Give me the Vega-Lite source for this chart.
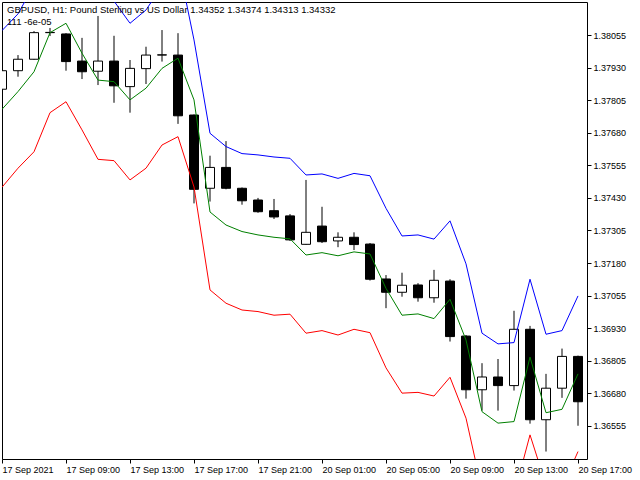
{
  "$schema": "https://vega.github.io/schema/vega-lite/v6.json",
  "width": 585,
  "height": 457,
  "autosize": "none",
  "padding": {"left": 2, "top": 2, "right": 53, "bottom": 21},
  "background": "white",
  "title": {
    "text": "GBPUSD, H1:  Pound Sterling vs US Dollar  1.34352 1.34374 1.34313 1.34332",
    "subtitle": "111 -6e-05",
    "anchor": "start",
    "frame": "group",
    "offset": -24,
    "dx": 5,
    "font": "Liberation Sans",
    "fontSize": 9.5,
    "fontWeight": "normal",
    "color": "black",
    "subtitleFont": "Liberation Sans",
    "subtitleFontSize": 9.5,
    "subtitleColor": "black",
    "subtitlePadding": 2
  },
  "data": {
    "values": [
      {"t": "17 Sep 05:00", "o": 1.37847, "h": 1.37920, "l": 1.37845, "c": 1.37918, "up": 1.38072, "mid": 1.37770, "lo": 1.37471},
      {"t": "17 Sep 06:00", "o": 1.37918, "h": 1.37978, "l": 1.37895, "c": 1.37962, "up": 1.38136, "mid": 1.37838, "lo": 1.37544},
      {"t": "17 Sep 07:00", "o": 1.37962, "h": 1.38070, "l": 1.37960, "c": 1.38064, "up": 1.38247, "mid": 1.37914, "lo": 1.37607},
      {"t": "17 Sep 08:00", "o": 1.38064, "h": 1.38082, "l": 1.38051, "c": 1.38065, "up": 1.38370, "mid": 1.38064, "lo": 1.37757},
      {"t": "17 Sep 09:00", "o": 1.38059, "h": 1.38062, "l": 1.37918, "c": 1.37953, "up": 1.38400, "mid": 1.38100, "lo": 1.37799},
      {"t": "17 Sep 10:00", "o": 1.37955, "h": 1.38044, "l": 1.37886, "c": 1.37914, "up": 1.38278, "mid": 1.37985, "lo": 1.37691},
      {"t": "17 Sep 11:00", "o": 1.37916, "h": 1.38128, "l": 1.37863, "c": 1.37955, "up": 1.38208, "mid": 1.37882, "lo": 1.37578},
      {"t": "17 Sep 12:00", "o": 1.37955, "h": 1.38052, "l": 1.37795, "c": 1.37860, "up": 1.38185, "mid": 1.37876, "lo": 1.37573},
      {"t": "17 Sep 13:00", "o": 1.37857, "h": 1.37959, "l": 1.37757, "c": 1.37927, "up": 1.38100, "mid": 1.37806, "lo": 1.37499},
      {"t": "17 Sep 14:00", "o": 1.37926, "h": 1.38010, "l": 1.37867, "c": 1.37978, "up": 1.38151, "mid": 1.37851, "lo": 1.37544},
      {"t": "17 Sep 15:00", "o": 1.37978, "h": 1.38074, "l": 1.37953, "c": 1.37979, "up": 1.38243, "mid": 1.37927, "lo": 1.37633},
      {"t": "17 Sep 16:00", "o": 1.37978, "h": 1.38062, "l": 1.37714, "c": 1.37745, "up": 1.38335, "mid": 1.37966, "lo": 1.37665},
      {"t": "17 Sep 17:00", "o": 1.37748, "h": 1.37750, "l": 1.37409, "c": 1.37463, "up": 1.38036, "mid": 1.37806, "lo": 1.37472},
      {"t": "17 Sep 18:00", "o": 1.37467, "h": 1.37592, "l": 1.37416, "c": 1.37547, "up": 1.37678, "mid": 1.37376, "lo": 1.37077},
      {"t": "17 Sep 19:00", "o": 1.37547, "h": 1.37648, "l": 1.37463, "c": 1.37467, "up": 1.37627, "mid": 1.37326, "lo": 1.37026},
      {"t": "17 Sep 20:00", "o": 1.37467, "h": 1.37470, "l": 1.37404, "c": 1.37419, "up": 1.37600, "mid": 1.37301, "lo": 1.37000},
      {"t": "17 Sep 21:00", "o": 1.37422, "h": 1.37430, "l": 1.37373, "c": 1.37377, "up": 1.37595, "mid": 1.37288, "lo": 1.36994},
      {"t": "17 Sep 22:00", "o": 1.37381, "h": 1.37426, "l": 1.37349, "c": 1.37357, "up": 1.37587, "mid": 1.37279, "lo": 1.36980},
      {"t": "17 Sep 23:00", "o": 1.37361, "h": 1.37368, "l": 1.37265, "c": 1.37269, "up": 1.37582, "mid": 1.37273, "lo": 1.36984},
      {"t": "20 Sep 00:00", "o": 1.37252, "h": 1.37499, "l": 1.37250, "c": 1.37298, "up": 1.37518, "mid": 1.37211, "lo": 1.36911},
      {"t": "20 Sep 01:00", "o": 1.37322, "h": 1.37396, "l": 1.37257, "c": 1.37262, "up": 1.37522, "mid": 1.37220, "lo": 1.36921},
      {"t": "20 Sep 02:00", "o": 1.37265, "h": 1.37298, "l": 1.37241, "c": 1.37279, "up": 1.37505, "mid": 1.37208, "lo": 1.36904},
      {"t": "20 Sep 03:00", "o": 1.37279, "h": 1.37298, "l": 1.37230, "c": 1.37251, "up": 1.37524, "mid": 1.37223, "lo": 1.36926},
      {"t": "20 Sep 04:00", "o": 1.37253, "h": 1.37257, "l": 1.37113, "c": 1.37118, "up": 1.37515, "mid": 1.37215, "lo": 1.36913},
      {"t": "20 Sep 05:00", "o": 1.37119, "h": 1.37134, "l": 1.37007, "c": 1.37068, "up": 1.37390, "mid": 1.37083, "lo": 1.36778},
      {"t": "20 Sep 06:00", "o": 1.37068, "h": 1.37143, "l": 1.37051, "c": 1.37095, "up": 1.37284, "mid": 1.36980, "lo": 1.36681},
      {"t": "20 Sep 07:00", "o": 1.37096, "h": 1.37103, "l": 1.37032, "c": 1.37047, "up": 1.37288, "mid": 1.36985, "lo": 1.36684},
      {"t": "20 Sep 08:00", "o": 1.37047, "h": 1.37154, "l": 1.37028, "c": 1.37114, "up": 1.37272, "mid": 1.36967, "lo": 1.36670},
      {"t": "20 Sep 09:00", "o": 1.37111, "h": 1.37118, "l": 1.36879, "c": 1.36898, "up": 1.37342, "mid": 1.37041, "lo": 1.36742},
      {"t": "20 Sep 10:00", "o": 1.36900, "h": 1.36904, "l": 1.36660, "c": 1.36694, "up": 1.37177, "mid": 1.36885, "lo": 1.36585},
      {"t": "20 Sep 11:00", "o": 1.36694, "h": 1.36796, "l": 1.36614, "c": 1.36743, "up": 1.36911, "mid": 1.36610, "lo": 1.36310},
      {"t": "20 Sep 12:00", "o": 1.36743, "h": 1.36812, "l": 1.36614, "c": 1.36710, "up": 1.36870, "mid": 1.36566, "lo": 1.36271},
      {"t": "20 Sep 13:00", "o": 1.36710, "h": 1.36997, "l": 1.36691, "c": 1.36926, "up": 1.36875, "mid": 1.36572, "lo": 1.36290},
      {"t": "20 Sep 14:00", "o": 1.36926, "h": 1.36939, "l": 1.36564, "c": 1.36579, "up": 1.37118, "mid": 1.36819, "lo": 1.36521},
      {"t": "20 Sep 15:00", "o": 1.36579, "h": 1.36755, "l": 1.36457, "c": 1.36700, "up": 1.36907, "mid": 1.36606, "lo": 1.36329},
      {"t": "20 Sep 16:00", "o": 1.36700, "h": 1.36852, "l": 1.36663, "c": 1.36822, "up": 1.36921, "mid": 1.36619, "lo": 1.36317},
      {"t": "20 Sep 17:00", "o": 1.36822, "h": 1.36825, "l": 1.36556, "c": 1.36648, "up": 1.37054, "mid": 1.36755, "lo": 1.36457}
    ]
  },
  "encoding": {
    "x": {
      "field": "t",
      "type": "ordinal",
      "sort": null,
      "title": null,
      "scale": {"type": "point", "padding": 0, "range": [0, 576]},
      "axis": {
        "values": ["17 Sep 05:00", "17 Sep 09:00", "17 Sep 13:00", "17 Sep 17:00", "17 Sep 21:00", "20 Sep 01:00", "20 Sep 05:00", "20 Sep 09:00", "20 Sep 13:00", "20 Sep 17:00"],
        "labelExpr": "datum.value == '17 Sep 05:00' ? '17 Sep 2021' : datum.value",
        "labelAngle": 0,
        "labelAlign": "left",
        "labelBaseline": "top",
        "labelPadding": 2,
        "tickSize": 4,
        "domain": false
      }
    }
  },
  "layer": [
    {
      "mark": {"type": "rule", "color": "black", "strokeWidth": 1, "clip": true},
      "encoding": {
        "y": {
          "field": "l", "type": "quantitative", "title": null,
          "scale": {"domain": [1.364284, 1.381816], "nice": false, "zero": false},
          "axis": {
            "orient": "right",
            "values": [1.36555, 1.3668, 1.36805, 1.3693, 1.37055, 1.3718, 1.37305, 1.3743, 1.37555, 1.3768, 1.37805, 1.3793, 1.38055],
            "tickCount": 30,
            "format": ".5f",
            "tickSize": 4,
            "labelPadding": 2,
            "domain": false
          }
        },
        "y2": {"field": "h"}
      }
    },
    {
      "mark": {"type": "bar", "width": 9, "stroke": "black", "strokeWidth": 1, "clip": true},
      "encoding": {
        "y": {
          "field": "o", "type": "quantitative", "title": null,
          "scale": {"domain": [1.364284, 1.381816], "nice": false, "zero": false}
        },
        "y2": {"field": "c"},
        "fill": {
          "condition": {"test": "datum.c < datum.o", "value": "black"},
          "value": "white"
        }
      }
    },
    {
      "mark": {"type": "line", "color": "#0000ff", "strokeWidth": 1, "clip": true},
      "encoding": {
        "y": {
          "field": "up", "type": "quantitative", "title": null,
          "scale": {"domain": [1.364284, 1.381816], "nice": false, "zero": false}
        }
      }
    },
    {
      "mark": {"type": "line", "color": "#008000", "strokeWidth": 1, "clip": true},
      "encoding": {
        "y": {
          "field": "mid", "type": "quantitative", "title": null,
          "scale": {"domain": [1.364284, 1.381816], "nice": false, "zero": false}
        }
      }
    },
    {
      "mark": {"type": "line", "color": "#ff0000", "strokeWidth": 1, "clip": true},
      "encoding": {
        "y": {
          "field": "lo", "type": "quantitative", "title": null,
          "scale": {"domain": [1.364284, 1.381816], "nice": false, "zero": false}
        }
      }
    }
  ],
  "config": {
    "view": {"stroke": "black", "strokeWidth": 1},
    "axis": {
      "grid": false,
      "labelFont": "Liberation Sans",
      "labelFontSize": 9,
      "labelColor": "black",
      "tickColor": "black",
      "tickWidth": 1,
      "labelOverlap": false,
      "labelBound": false,
      "labelFlush": false
    }
  }
}
